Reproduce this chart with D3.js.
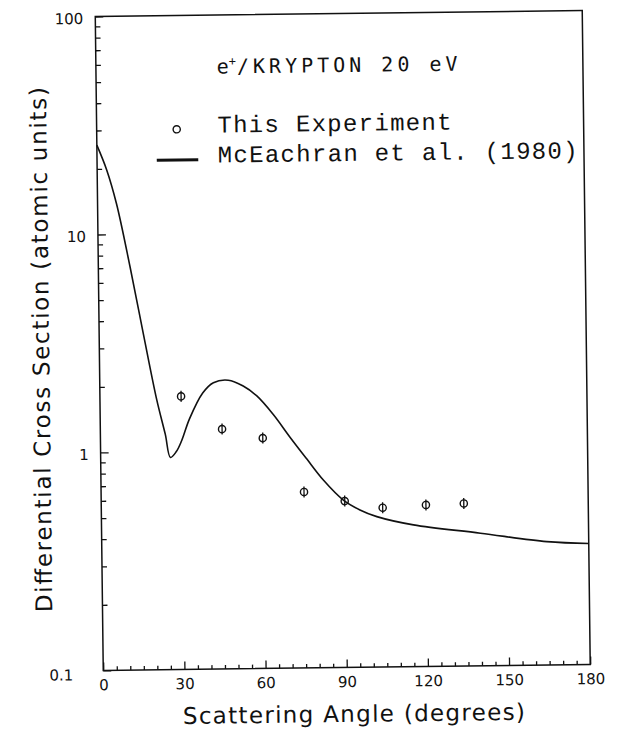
<!DOCTYPE html>
<html>
<head>
<meta charset="utf-8">
<script src="https://cdn.jsdelivr.net/npm/d3@7"></script>
<style>
	body {margin:0; background:#fff;}
	svg {display:block;}
	.tick text {font-family:"DejaVu Sans", sans-serif; font-size:15px; fill:#111;}
	.tick line {stroke:#111; stroke-width:1.3;}
</style>
</head>
<body>
<div id="chart"></div>
<script>
// measured data
const expAngle = [30, 45, 60, 75, 90, 104, 120, 134];
const expDcs = [1.79, 1.26, 1.14, 0.642, 0.58, 0.538, 0.551, 0.557];
const expErr = [0.06, 0.06, 0.06, 0.06, 0.06, 0.06, 0.06, 0.06]; // fractional

// McEachran et al. (1980) curve
const theoryAngle = [0, 3.5, 7, 11.7, 16.3, 21, 24, 25.8, 28, 30, 33, 38, 42, 47.5, 53, 58, 64, 70, 76, 82.2, 89.5, 95.6, 101.8, 115.3, 140, 164.5, 180];
const theoryDcs = [25.7, 19.8, 13.8, 7.1, 3.5, 1.73, 1.2, 0.94, 1.0, 1.12, 1.41, 1.85, 2.06, 2.11, 1.98, 1.78, 1.46, 1.15, 0.915, 0.726, 0.586, 0.527, 0.49, 0.447, 0.406, 0.368, 0.359];

const xTicks = [0, 30, 60, 90, 120, 150, 180];
const yTicks = [0.1, 1, 10, 100];
const yTickLabels = ['0.1', '1', '10', '100'];

const titleText = '/KRYPTON 20 eV';
const legendLabels = ['This Experiment', 'McEachran et al. (1980)'];
const xTitle = 'Scattering Angle (degrees)';
const yTitle = 'Differential Cross Section (atomic units)';

var width = 619, height = 732;
var mLeft = 99.25, mRight = 586.25, mTop = 13.5, mBottom = 667.5;

var svg = d3.select('#chart').append('svg')
	.attr('width', width)
	.attr('height', height)
	.style('background', '#fff');

// the scan is turned a little, so turn the whole plot with it
var g = svg.append('g').attr('transform', 'rotate(-0.7, 342.75, 340.5)');

var x = d3.scaleLinear().domain([0, 180]).range([mLeft, mRight]);
var y = d3.scaleLog().domain([0.1, 100]).range([mBottom, mTop]);

// minor ticks
var xMinor = d3.range(0, 181, 5).filter(d => d % 30 != 0);
var yMinor = [];
[0.1, 1, 10].forEach(dec => { for (var k = 2; k <= 9; k++) yMinor.push(dec * k); });

g.append('g')
	.attr('transform', 'translate(0,' + mBottom + ')')
	.call(d3.axisBottom(x).tickValues(xMinor).tickSize(-4).tickFormat(''))
	.call(a => a.select('.domain').remove());

g.append('g')
	.attr('transform', 'translate(' + mLeft + ',0)')
	.call(d3.axisLeft(y).tickValues(yMinor).tickSize(-5).tickFormat(''))
	.call(a => a.select('.domain').remove());

// major ticks with labels
g.append('g')
	.attr('transform', 'translate(0,' + mBottom + ')')
	.call(d3.axisBottom(x).tickValues(xTicks).tickSize(-8).tickPadding(9).tickFormat(d3.format('d')))
	.call(a => a.select('.domain').remove());

var yAx = g.append('g')
	.attr('transform', 'translate(' + mLeft + ',0)')
	.call(d3.axisLeft(y).tickValues(yTicks).tickSize(-8).tickPadding(12).tickFormat((d, i) => yTickLabels[i]))
	.call(a => a.select('.domain').remove());

yAx.selectAll('.tick text').attr('dy', '0.45em');
yAx.selectAll('.tick text').filter(d => d === 0.1).attr('x', -30).attr('dy', '0.6em');

// frame
g.append('rect')
	.attr('x', mLeft).attr('y', mTop)
	.attr('width', mRight - mLeft).attr('height', mBottom - mTop)
	.attr('fill', 'none')
	.attr('stroke', '#111')
	.attr('stroke-width', 1.5);

// theory curve
var line = d3.line()
	.x(d => x(d[0]))
	.y(d => y(d[1]))
	.curve(d3.curveCatmullRom.alpha(0.5));

g.append('path')
	.datum(theoryAngle.map((a, i) => [a, theoryDcs[i]]))
	.attr('d', line)
	.attr('fill', 'none')
	.attr('stroke', '#111')
	.attr('stroke-width', 1.6);

// experiment points
var pts = g.selectAll('.pt')
	.data(expAngle.map((a, i) => ({a: a, v: expDcs[i], e: expErr[i]})))
	.enter().append('g').attr('class', 'pt');

pts.append('line')
	.attr('x1', d => x(d.a)).attr('x2', d => x(d.a))
	.attr('y1', d => y(d.v * (1 + d.e)))
	.attr('y2', d => y(d.v / (1 + d.e)))
	.attr('stroke', '#111').attr('stroke-width', 1.3);

pts.append('circle')
	.attr('cx', d => x(d.a)).attr('cy', d => y(d.v))
	.attr('r', 3.6)
	.attr('fill', 'none')
	.attr('stroke', '#111').attr('stroke-width', 1.4);

// title
var t = g.append('text')
	.attr('x', 220).attr('y', 72)
	.style('font-family', '"DejaVu Sans Mono", monospace')
	.style('font-size', '20px')
	.style('letter-spacing', '4px')
	.attr('fill', '#111');
t.append('tspan').text('e');
t.append('tspan').attr('dy', -8).attr('dx', -4).style('font-size', '12px').style('letter-spacing', '0px').text('+');
t.append('tspan').attr('dy', 8).attr('dx', 1).text(titleText);

// legend
g.append('circle')
	.attr('cx', 179.3).attr('cy', 127.3).attr('r', 3.6)
	.attr('fill', 'none').attr('stroke', '#111').attr('stroke-width', 1.4);

g.append('path')
	.attr('d', d3.line()([[159, 158], [200.5, 158]]))
	.attr('stroke', '#111').attr('stroke-width', 3);

g.selectAll('.leg')
	.data(legendLabels)
	.enter().append('text')
	.attr('class', 'leg')
	.attr('x', 220)
	.attr('y', (d, i) => i == 0 ? 131 : 161)
	.style('font-family', '"Liberation Mono", monospace')
	.style('font-size', '24px')
	.style('letter-spacing', '1.3px')
	.attr('fill', '#111')
	.text(d => d);

// axis titles
g.append('text')
	.attr('x', 349.3).attr('y', 722)
	.attr('text-anchor', 'middle')
	.attr('textLength', 342)
	.style('font-family', '"DejaVu Sans", sans-serif')
	.style('font-size', '23px')
	.attr('fill', '#111')
	.text(xTitle);

g.append('text')
	.attr('transform', 'translate(49,346) rotate(-90)')
	.attr('text-anchor', 'middle')
	.attr('textLength', 525)
	.style('font-family', '"DejaVu Sans", sans-serif')
	.style('font-size', '23px')
	.attr('fill', '#111')
	.text(yTitle);
</script>
</body>
</html>
